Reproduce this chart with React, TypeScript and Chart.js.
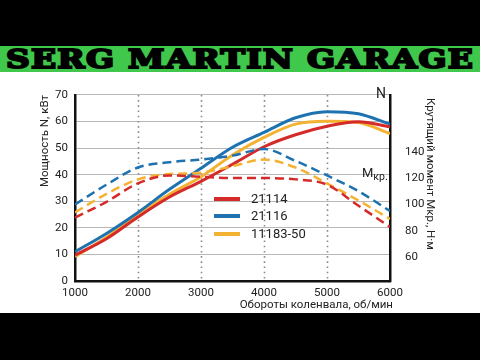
import React, { useEffect, useLayoutEffect, useRef, useState } from "react";
import { Chart, registerables } from "chart.js";

Chart.register(...registerables);

const rpm = [1000, 1500, 2000, 2500, 3000, 3500, 4000, 4500, 5000, 5500, 6000];
const power21114 = [9.7, 15.9, 24.1, 31.6, 37.5, 43.9, 50.5, 55.0, 58.2, 59.9, 58.0];
const power21116 = [11.0, 17.9, 25.8, 34.5, 42.4, 50.3, 55.9, 61.4, 63.7, 62.9, 59.0];
const power11183 = [9.2, 16.5, 24.9, 32.6, 39.2, 47.4, 54.0, 59.0, 60.1, 59.6, 55.4];
const torque21114 = [90, 102, 116, 122, 121, 120, 120, 119, 115, 99, 83];
const torque21116 = [100, 115, 128, 132, 134, 137, 142, 133, 122, 110, 95];
const torque11183 = [94, 108, 119, 123, 124, 129, 134, 128, 116, 103, 89];

const engines = ["21114", "21116", "11183-50"];
const colors = ["#d42a2a", "#1e72b0", "#f4b232"];
const powerTicks = [0, 10, 20, 30, 40, 50, 60, 70];
const torqueTicks = [60, 80, 100, 120, 140];
const rpmTicks = [1000, 2000, 3000, 4000, 5000, 6000];
const rpmGrid = [2000, 3000, 4000, 5000];
const powerTitle = "Мощность N, кВт";
const torqueTitle = "Крутящий момент Мкр., Н·м";
const rpmTitle = "Обороты коленвала, об/мин";

const FONT = 'Roboto, "Liberation Sans", sans-serif';

const Banner = () => {
  const ref = useRef<HTMLSpanElement>(null);
  const [sx, setSx] = useState(1);
  useLayoutEffect(() => {
    if (ref.current) setSx(468 / ref.current.offsetWidth);
  }, []);
  return (
    <div style={{ position: "absolute", left: 0, top: 46, width: 480, height: 26, background: "#3fc84b", overflow: "hidden" }}>
      <span
        ref={ref}
        style={{
          position: "absolute",
          left: 6,
          top: -3,
          whiteSpace: "nowrap",
          fontFamily: '"DejaVu Serif", serif',
          fontWeight: 900,
          fontSize: 26,
          lineHeight: "32px",
          color: "#000",
          transformOrigin: "0 50%",
          transform: `scaleX(${sx})`,
          WebkitTextStroke: "2px #000",
          letterSpacing: "1px",
        }}
      >
        SERG MARTIN GARAGE
      </span>
    </div>
  );
};

export default function App() {
  const canvasRef = useRef<HTMLCanvasElement>(null);

  useEffect(() => {
    if (!canvasRef.current) return;
    const pts = (arr: number[]) => rpm.map((x, i) => ({ x, y: arr[i] }));
    const powerSets = [power21114, power21116, power11183];
    const torqueSets = [torque21114, torque21116, torque11183];

    const datasets: any[] = [];
    torqueSets.forEach((arr, i) =>
      datasets.push({
        label: engines[i] + " M",
        data: pts(arr),
        yAxisID: "y2",
        borderColor: colors[i],
        borderWidth: 2.5,
        borderDash: [9, 5],
        pointRadius: 0,
        cubicInterpolationMode: "monotone",
        fill: false,
      })
    );
    powerSets.forEach((arr, i) =>
      datasets.push({
        label: engines[i] + " N",
        data: pts(arr),
        yAxisID: "y",
        borderColor: colors[i],
        borderWidth: 3,
        pointRadius: 0,
        cubicInterpolationMode: "monotone",
        fill: false,
      })
    );

    const decor = {
      id: "decor",
      beforeDatasetsDraw(chart: any) {
        const { ctx, chartArea, scales } = chart;
        ctx.save();
        ctx.strokeStyle = "#8a8a8a";
        ctx.lineWidth = 1.6;
        ctx.setLineDash([1.6, 3.6]);
        rpmGrid.forEach((v) => {
          const x = Math.round(scales.x.getPixelForValue(v)) + 0.5;
          ctx.beginPath();
          ctx.moveTo(x, chartArea.top);
          ctx.lineTo(x, chartArea.bottom);
          ctx.stroke();
        });
        ctx.restore();
      },
      afterDraw(chart: any) {
        const { ctx, chartArea } = chart;
        ctx.save();
        ctx.fillStyle = "#222";
        ctx.font = `11.5px ${FONT}`;
        ctx.textBaseline = "middle";
        // left title (rotated, ending at top)
        ctx.save();
        ctx.translate(45, chartArea.top);
        ctx.rotate(-Math.PI / 2);
        ctx.textAlign = "right";
        ctx.fillText(powerTitle, 0, 0);
        ctx.restore();
        // right title
        ctx.save();
        ctx.translate(430, chartArea.top + 3);
        ctx.rotate(Math.PI / 2);
        ctx.textAlign = "left";
        ctx.fillText(torqueTitle, 0, 0);
        ctx.restore();
        // x title
        ctx.textAlign = "right";
        ctx.fillText(rpmTitle, chartArea.right + 3, 232);
        ctx.restore();
      },
      afterDatasetsDraw(chart: any) {
        const { ctx, chartArea } = chart;
        ctx.save();
        // legend
        const lx = chartArea.left + 139;
        const rows = [126, 143, 161];
        engines.forEach((name, i) => {
          ctx.strokeStyle = colors[i];
          ctx.lineWidth = 4;
          ctx.beginPath();
          ctx.moveTo(lx, rows[i]);
          ctx.lineTo(lx + 26, rows[i]);
          ctx.stroke();
          ctx.fillStyle = "#222";
          ctx.font = `13px ${FONT}`;
          ctx.textBaseline = "middle";
          ctx.textAlign = "left";
          ctx.fillText(name, lx + 37, rows[i] + 1);
        });
        // curve labels
        ctx.fillStyle = "#222";
        ctx.textBaseline = "middle";
        ctx.font = `14px ${FONT}`;
        ctx.fillText("N", chartArea.right - 14, 21);
        ctx.font = `13px ${FONT}`;
        ctx.fillText("M", chartArea.right - 28, 101);
        const mw = ctx.measureText("M").width;
        ctx.font = `10.5px ${FONT}`;
        ctx.fillText("кр.", chartArea.right - 28 + mw, 104);
        ctx.restore();
      },
    };

    const tickFont = { family: FONT, size: 11.5 };
    const chart = new Chart(canvasRef.current, {
      type: "line",
      data: { datasets },
      plugins: [decor],
      options: {
        animation: false,
        responsive: false,
        maintainAspectRatio: false,
        layout: { padding: { top: 7, left: 0, right: 0, bottom: 0 } },
        plugins: { legend: { display: false }, tooltip: { enabled: false } },
        scales: {
          x: {
            type: "linear",
            min: 1000,
            max: 6000,
            afterBuildTicks: (axis: any) => {
              axis.ticks = rpmTicks.map((value) => ({ value }));
            },
            afterFit: (s: any) => {
              s.height = 32;
            },
            grid: { display: false, drawTicks: false },
            border: { display: true, color: "#111", width: 2.5 },
            ticks: {
              color: "#222",
              font: tickFont,
              padding: 5,
              maxRotation: 0,
              callback: (v: any) => String(v),
            },
          },
          y: {
            position: "left",
            min: 0,
            max: 70,
            afterBuildTicks: (axis: any) => {
              axis.ticks = powerTicks.map((value) => ({ value }));
            },
            afterFit: (s: any) => {
              s.width = 75;
            },
            grid: { color: "#b8b8b8", lineWidth: 1, drawTicks: false },
            border: { display: true, color: "#111", width: 2.5 },
            ticks: { color: "#222", font: tickFont, padding: 7, callback: (v: any) => String(v) },
          },
          y2: {
            position: "right",
            min: 42,
            max: 183,
            afterBuildTicks: (axis: any) => {
              axis.ticks = torqueTicks.map((value) => ({ value }));
            },
            afterFit: (s: any) => {
              s.width = 90;
            },
            grid: { display: false, drawTicks: false },
            border: { display: true, color: "#111", width: 2.5 },
            ticks: { color: "#222", font: tickFont, padding: 15, callback: (v: any) => String(v) },
          },
        },
      } as any,
    });
    return () => chart.destroy();
  }, []);

  return (
    <div style={{ position: "fixed", left: 0, top: 0, width: 480, height: 360, background: "#000", overflow: "hidden" }}>
      <Banner />
      <div style={{ position: "absolute", left: 0, top: 72, width: 480, height: 241, background: "#fff" }}>
        <canvas ref={canvasRef} width={480} height={240} style={{ position: "absolute", left: 0, top: 1, width: 480, height: 240 }} />
      </div>
    </div>
  );
}
